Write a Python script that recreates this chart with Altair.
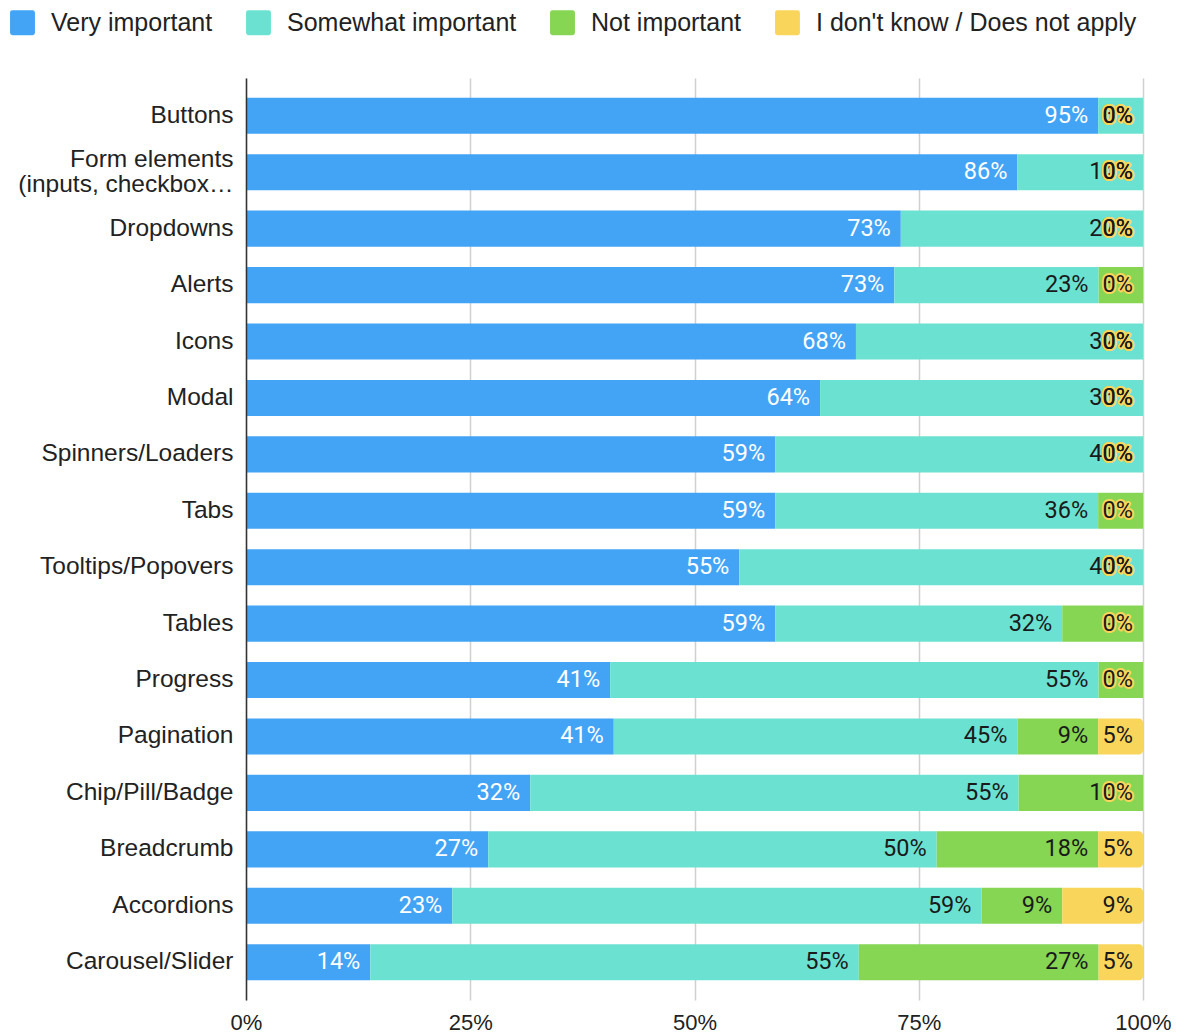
import altair as alt
import pandas as pd

categories = [
    "Buttons",
    "Form elements\n(inputs, checkbox…",
    "Dropdowns",
    "Alerts",
    "Icons",
    "Modal",
    "Spinners/Loaders",
    "Tabs",
    "Tooltips/Popovers",
    "Tables",
    "Progress",
    "Pagination",
    "Chip/Pill/Badge",
    "Breadcrumb",
    "Accordions",
    "Carousel/Slider",
]
series = ["Very important", "Somewhat important", "Not important", "I don't know / Does not apply"]
very_important = [95, 86, 73, 73, 68, 64, 59, 59, 55, 59, 41, 41, 32, 27, 23, 14]
somewhat_important = [5, 14, 27, 23, 32, 36, 41, 36, 45, 32, 55, 45, 55, 50, 59, 55]
not_important = [0, 0, 0, 5, 0, 0, 0, 5, 0, 9, 5, 9, 14, 18, 9, 27]
dont_know = [0, 0, 0, 0, 0, 0, 0, 0, 0, 0, 0, 5, 0, 5, 9, 5]
colors = ["#43A4F6", "#6BE2D1", "#86D553", "#F9D65B"]

rows = []
for i, cat in enumerate(categories):
    for j, vals in enumerate([very_important, somewhat_important, not_important, dont_know]):
        rows.append({"item": cat, "series": series[j], "order": j, "value": vals[i],
                     "label": f"{vals[i]}%"})
df = pd.DataFrame(rows)

base = alt.Chart(df).transform_stack(
    stack="value",
    groupby=["item"],
    as_=["x0", "x1"],
    offset="normalize",
    sort=[alt.SortField("order", "ascending")],
)

y_enc = alt.Y(
    "item:N",
    sort=categories,
    scale=alt.Scale(paddingInner=0.36, paddingOuter=0.35),
    axis=alt.Axis(
        title=None,
        labelFontSize=24.5,
        labelFont="Liberation Sans",
        labelColor="#222222",
        labelPadding=13,
        ticks=False,
        domainColor="#333333",
        domainWidth=1.5,
        labelLimit=300,
        labelExpr="split(datum.label, '\\n')",
        labelLineHeight=25,
        labelOffset={"condition": {"test": "indexof(datum.value, 'Form') >= 0", "value": -12.5}, "value": 0},
        zindex=1,
    ),
)

x_enc = alt.X(
    "x0:Q",
    scale=alt.Scale(domain=[0, 1], nice=False),
    axis=alt.Axis(
        title=None,
        format="%",
        values=[0, 0.25, 0.5, 0.75, 1],
        grid=True,
        gridColor="#d0d0d0",
        gridWidth=1.5,
        domain=False,
        ticks=False,
        labelFlush=False,
        labelFontSize=22,
        labelFont="Liberation Sans",
        labelColor="#222222",
        labelPadding=12,
    ),
)

color_enc = alt.Color(
    "series:N",
    scale=alt.Scale(domain=series, range=colors),
    legend=alt.Legend(
        title=None,
        orient="none",
        legendX=-236,
        legendY=-68,
        direction="horizontal",
        symbolType="M -0.8 -1 L 0.8 -1 Q 1 -1 1 -0.8 L 1 0.8 Q 1 1 0.8 1 L -0.8 1 Q -1 1 -1 0.8 L -1 -0.8 Q -1 -1 -0.8 -1 Z",
        symbolSize=620,
        symbolStrokeWidth=0,
        symbolOpacity=1,
        labelFontSize=25,
        labelFont="Liberation Sans",
        labelColor="#222222",
        labelOffset=16,
        columnPadding=33,
        labelLimit=500,
    ),
)

bars = base.transform_filter(alt.datum.order < 3).mark_bar().encode(
    y=y_enc, x=x_enc, x2="x1:Q", color=color_enc
)

bars_last = base.transform_filter(alt.datum.order == 3).mark_bar(
    cornerRadiusTopRight=4, cornerRadiusBottomRight=4
).encode(y=y_enc, x=x_enc, x2="x1:Q", color=color_enc)

text_color = alt.when(alt.datum.series == "Very important").then(alt.value("white")).otherwise(alt.value("#1a1a1a"))

labels = base.transform_filter(alt.datum.value > 0).mark_text(
    align="right", baseline="middle", dx=-10, font="Roboto", fontSize=23.5
).encode(
    y=alt.Y("item:N", sort=categories),
    x=alt.X("x1:Q"),
    text="label:N",
    color=text_color,
)

zero_halo = base.transform_filter(alt.datum.value == 0).mark_text(
    align="right", baseline="middle", dx=-10, font="Roboto", fontSize=23.5,
    stroke="#F9D65B", strokeWidth=4, strokeJoin="round", fill="#F9D65B",
).encode(
    y=alt.Y("item:N", sort=categories),
    x=alt.X("x1:Q"),
    text="label:N",
)

zero_text = base.transform_filter(alt.datum.value == 0).mark_text(
    align="right", baseline="middle", dx=-10, font="Roboto", fontSize=23.5, fill="#1a1a1a"
).encode(
    y=alt.Y("item:N", sort=categories),
    x=alt.X("x1:Q"),
    text="label:N",
)

chart = alt.layer(bars, bars_last, labels, zero_halo, zero_text).properties(
    width=897,
    height=922,
    padding={"left": 246, "top": 78, "right": 44, "bottom": 36},
    autosize=alt.AutoSizeParams(type="none"),
).configure_view(stroke=None).resolve_scale(color="shared")

chart.save("out.html", embed_options={"renderer": "svg", "actions": False})
